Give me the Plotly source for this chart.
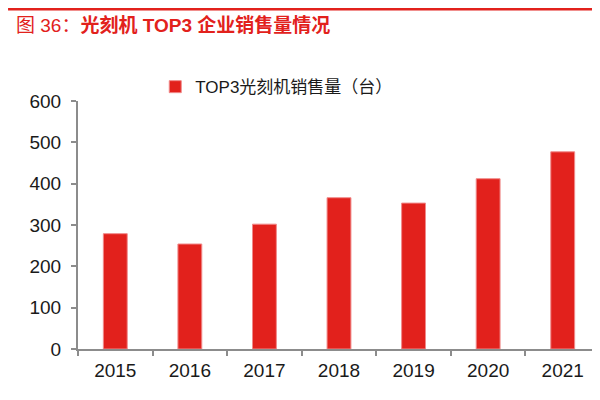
import plotly.graph_objects as go

# Datos
anios = ["2015", "2016", "2017", "2018", "2019", "2020", "2021"]
ventas = [279, 254, 302, 366, 353, 412, 477]
serie = "TOP3光刻机销售量（台）"
titulo = "图 36：<b>光刻机 TOP3 企业销售量情况</b>"

rojo = "#e2211c"
fuente = "Liberation Sans, Arial, Noto Sans CJK SC, sans-serif"

fig = go.Figure()
fig.add_trace(go.Bar(
    x=anios, y=ventas, name=serie,
    marker=dict(color=rojo, line=dict(color="#f08a8a", width=1)),
))

# Titulo rojo arriba a la izquierda
fig.add_annotation(
    text=titulo, xref="paper", yref="paper",
    x=-0.123, y=1.306, xanchor="left", yanchor="middle",
    showarrow=False, font=dict(family=fuente, size=19, color=rojo),
)

# Linea roja superior
fig.add_shape(type="line", xref="paper", yref="paper",
              x0=-0.134, x1=1.0, y0=1.37, y1=1.37,
              line=dict(color=rojo, width=2.5))

# la pagina añade 8px de margen, por eso 592x392
fig.update_layout(
    width=592, height=392,
    margin=dict(l=70, r=0, t=93, b=51),
    paper_bgcolor="white", plot_bgcolor="white",
    font=dict(family=fuente, size=19, color="#1a1a1a"),
    bargap=0.68,
    showlegend=True,
    legend=dict(orientation="h", x=0.148, y=1.056, xanchor="left", yanchor="middle",
                font=dict(size=17, color="#1a1a1a"), itemwidth=30,
                bgcolor="rgba(0,0,0,0)"),
    xaxis=dict(
        showline=True, linecolor="#8c8c8c", linewidth=2,
        ticks="outside", tickson="boundaries", ticklen=5, tickcolor="#8c8c8c", tickwidth=2,
        showgrid=False, ticklabelstandoff=3,
    ),
    yaxis=dict(
        range=[0, 600], dtick=100,
        showline=True, linecolor="#8c8c8c", linewidth=2,
        ticks="outside", ticklen=5, tickcolor="#8c8c8c", tickwidth=2,
        showgrid=False, zeroline=False, ticklabelstandoff=6,
    ),
)

fig.write_html("out.html")
